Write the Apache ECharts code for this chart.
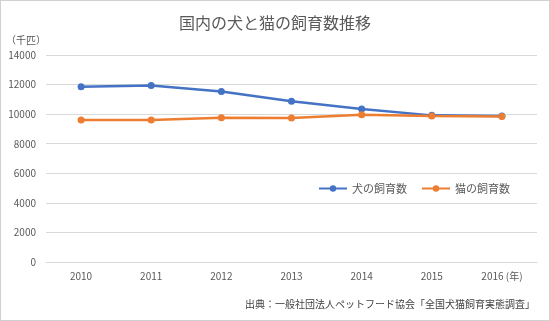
<!DOCTYPE html>
<html>
<head>
<meta charset="utf-8">
<script src="https://cdn.jsdelivr.net/npm/echarts@6/dist/echarts.min.js"></script>
<style>
  html, body { margin: 0; padding: 0; background: #fff; }
  #chart { width: 548px; height: 319px; border: 1px solid #d0d0d0; }
</style>
</head>
<body>
<div id="chart"></div>
<script>
// 国内の犬と猫の飼育数（千匹）
const years = ['2010', '2011', '2012', '2013', '2014', '2015', '2016'];
const dogs = [11861, 11936, 11534, 10872, 10346, 9917, 9878];
const cats = [9612, 9606, 9748, 9743, 9959, 9874, 9847];
const seriesNames = ['犬の飼育数', '猫の飼育数'];

const font = '"Noto Sans CJK JP", "Noto Sans", sans-serif';
const textColor = '#595959';

const chart = echarts.init(document.getElementById('chart'));
chart.setOption({
  animation: false,
  textStyle: { fontFamily: font },
  title: {
    text: '国内の犬と猫の飼育数推移',
    left: 'center',
    top: 9,
    textStyle: { fontSize: 16, fontWeight: 'normal', color: textColor, fontFamily: font }
  },
  legend: {
    data: seriesNames,
    left: 312,
    top: 177,
    itemWidth: 28,
    itemHeight: 8,
    itemGap: 14,
    textStyle: { fontSize: 11, color: textColor, fontFamily: font }
  },
  grid: { left: 45, right: 12, top: 54, bottom: 58 },
  xAxis: {
    type: 'category',
    data: years,
    boundaryGap: true,
    axisLine: { lineStyle: { color: '#d9d9d9' } },
    axisTick: { show: false },
    axisLabel: {
      fontSize: 10, color: textColor, margin: 9, fontFamily: font,
      formatter: v => v === '2016' ? v + ' (年)' : v
    }
  },
  yAxis: {
    type: 'value',
    min: 0,
    max: 14000,
    interval: 2000,
    name: '（千匹）',
    nameLocation: 'end',
    nameGap: 10,
    nameTextStyle: { fontSize: 10, color: textColor, align: 'right' },
    axisLine: { show: false },
    axisTick: { show: false },
    axisLabel: { fontSize: 10, color: textColor, margin: 10, formatter: v => String(v) },
    splitLine: { lineStyle: { color: '#d9d9d9' } }
  },
  series: [
    {
      name: seriesNames[0], type: 'line', data: dogs,
      symbol: 'circle', symbolSize: 7,
      lineStyle: { width: 2.5, color: '#4472C4' },
      itemStyle: { color: '#4472C4' }
    },
    {
      name: seriesNames[1], type: 'line', data: cats,
      symbol: 'circle', symbolSize: 7,
      lineStyle: { width: 2.5, color: '#ED7D31' },
      itemStyle: { color: '#ED7D31' }
    }
  ],
  graphic: [{
    type: 'text',
    right: 14,
    top: 298,
    style: {
      text: '出典：一般社団法人ペットフード協会「全国犬猫飼育実態調査」',
      fontSize: 10, fill: '#404040', fontFamily: font
    }
  }]
});
</script>
</body>
</html>
